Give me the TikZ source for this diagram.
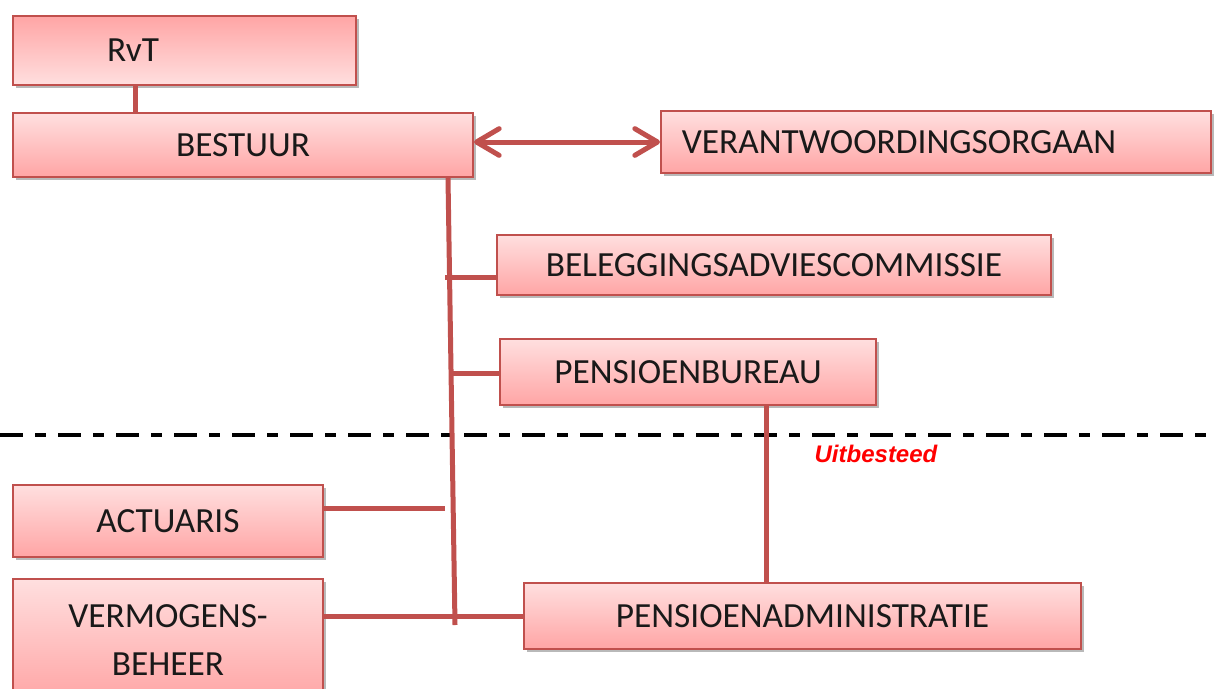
\documentclass[tikz,border=0pt]{standalone}
\usepackage{fontspec}
\setmainfont{Carlito}
\newfontfamily\uitfont{Liberation Sans}
\usetikzlibrary{arrows.meta,shadows}
\definecolor{boxred}{RGB}{192,80,77}
\definecolor{filltop}{RGB}{255,223,223}
\definecolor{fillbot}{RGB}{255,165,165}
\begin{document}
\begin{tikzpicture}[x=0.75pt,y=-0.75pt,
  box/.style={draw=boxred, line width=1.5pt, top color=filltop, bottom color=fillbot,
    drop shadow={shadow xshift=2pt, shadow yshift=-2pt, fill=black!50, opacity=0.55},
    anchor=north west, inner sep=0pt, text=black!90, font=\fontsize{26.5}{36}\selectfont, align=center},
  boxtext/.style={font=\fontsize{26.5}{36}\selectfont, text=black!90, inner sep=0pt},
  conn/.style={draw=boxred, line width=3.75pt},
  sep/.style={draw=black, line width=3pt, dash pattern=on 17.25pt off 9pt on 8.25pt off 9pt}]
\useasboundingbox (0,0) rectangle (1221,689);

% separator line
\coordinate (sl) at (0,435);
\coordinate (sr) at (1210,435);
\draw[sep] (sl) -- (sr);

% boxes
\node[box, top color=fillbot, bottom color=filltop, minimum width=343*0.75pt, minimum height=69*0.75pt] (rvt) at (12,15) {};
\node[boxtext] (rvtt) at (133,50) {RvT};
\node[box, minimum width=460*0.75pt, minimum height=64*0.75pt] (bes) at (12,112) {BESTUUR};
\node[box, minimum width=550*0.75pt, minimum height=62*0.75pt] (vo) at (660,110) {};
\node[boxtext] (vot) at (899,142) {VERANTWOORDINGSORGAAN};
\node[box, minimum width=554*0.75pt, minimum height=60*0.75pt] (bel) at (496,234) {BELEGGINGSADVIESCOMMISSIE};
\node[box, minimum width=376*0.75pt, minimum height=66*0.75pt] (pb) at (499,338) {PENSIOENBUREAU};
\node[box, minimum width=310*0.75pt, minimum height=72*0.75pt] (act) at (12,484) {ACTUARIS};
\node[box, minimum width=310*0.75pt, minimum height=122*0.75pt] (vb) at (12,578) {VERMOGENS-\\BEHEER};
\node[box, minimum width=557*0.75pt, minimum height=66*0.75pt] (pa) at (523,582) {PENSIOENADMINISTRATIE};

\node[text=red, font=\uitfont\bfseries\itshape\fontsize{18}{21}\selectfont, inner sep=0pt] (uit) at (876,454) {Uitbesteed};

% connectors
\draw[conn] ([xshift=123*0.75pt]rvt.south west) -- ([xshift=123*0.75pt]bes.north west);
\draw[conn, {Straight Barb[length=17pt,width=20pt,line cap=round,line join=round]}-{Straight Barb[length=17pt,width=20pt,line cap=round,line join=round]}] (bes.east |- vo.west) -- (vo.west);

\coordinate (tb) at (455,625);
\draw[conn] ([xshift=436*0.75pt]bes.south west) -- (tb);
\coordinate (t1) at (445,277);
\coordinate (t2) at (449,373);
\coordinate (t3) at (445,508);
\draw[conn] (t1) -- (t1 -| bel.west);
\draw[conn] (t2) -- (t2 -| pb.west);
\draw[conn] (act.east |- t3) -- (t3);
\draw[conn] (vb.east |- pa.west) -- (pa.west);
\coordinate (px) at (766,0);
\draw[conn] (px |- pb.south) -- (px |- pa.north);
\end{tikzpicture}
\end{document}
